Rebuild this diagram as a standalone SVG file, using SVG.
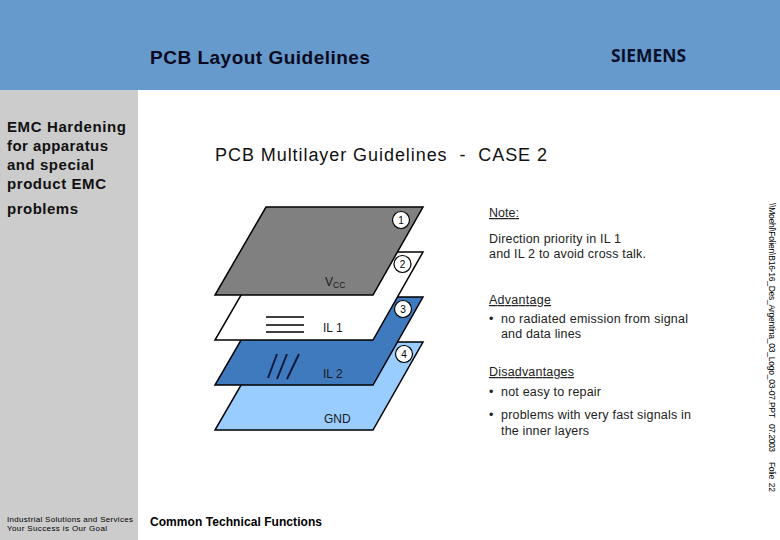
<svg xmlns="http://www.w3.org/2000/svg" width="780" height="540" viewBox="0 0 780 540">
<style>
text{font-family:"Liberation Sans",Arial,sans-serif;fill:#000}
.layer{stroke:#000;stroke-width:1.5;stroke-linejoin:miter}
.badge{fill:#fff;stroke:#000;stroke-width:1.2}
.num{font-size:10px;text-anchor:middle}
.lbl{font-size:12px;fill:#1a1a1a}
.body{font-size:12.500px;fill:#222}
.side{font-size:15px;font-weight:bold;fill:#111}
.edge{font-size:8.500px}
.trace{stroke:#000;stroke-width:1.3;fill:none}
.trace2{stroke:#0a1a40;stroke-width:2;fill:none}
</style>
<rect id="header-band" x="0" y="0" width="780" height="90" fill="#6699cc"/>
<rect id="sidebar" x="0" y="90" width="138" height="450" fill="#cccccc"/>
<text x="150" y="64" font-size="19" font-weight="bold" style="fill:#0a0a20" textLength="220">PCB Layout Guidelines</text>
<text x="611" y="62" font-size="17" font-weight="bold" style="font-family:'Open Sans','DejaVu Sans',sans-serif;fill:#0a1028" textLength="75" lengthAdjust="spacingAndGlyphs">SIEMENS</text>
<g id="sidebar-text">
<text class="side" x="7" y="132" textLength="119">EMC Hardening</text>
<text class="side" x="7" y="151" textLength="101">for apparatus</text>
<text class="side" x="7" y="170" textLength="87">and special</text>
<text class="side" x="7" y="189" textLength="99">product EMC</text>
<text class="side" x="7" y="214" textLength="71">problems</text>
</g>
<text x="215" y="161" font-size="18" style="fill:#111" xml:space="preserve" textLength="332">PCB Multilayer Guidelines  -  CASE 2</text>
<g id="layer-gnd">
<polygon class="layer" points="266,342 423,342 373,430 215,430" fill="#99ccff"/>
<text class="lbl" x="324" y="423">GND</text>
</g>
<g id="layer-il2">
<polygon class="layer" points="266,297 423,297 373,385 215,385" fill="#3f7abf"/>
<path class="trace2" d="M277 354L268 378M287 354L277 379M299 354L287 379"/>
<text class="lbl" x="323" y="378">IL 2</text>
</g>
<g id="layer-il1">
<polygon class="layer" points="266,252 423,252 373,340 215,340" fill="#fff"/>
<path class="trace" d="M266 317H304M266 325H304M266 332H304"/>
<text class="lbl" x="323" y="332">IL 1</text>
</g>
<g id="layer-vcc">
<polygon class="layer" points="266,207 423,207 373,295 215,295" fill="#808080"/>
<text class="lbl" x="325" y="286" font-size="12">V<tspan font-size="8.500" dy="2">CC</tspan></text>
</g>
<g id="badge-1"><circle class="badge" cx="401" cy="220" r="8.5"/><text class="num" x="401" y="224">1</text></g>
<g id="badge-2"><circle class="badge" cx="402.500" cy="264" r="8.5"/><text class="num" x="402.500" y="268">2</text></g>
<g id="badge-3"><circle class="badge" cx="403" cy="309" r="8.5"/><text class="num" x="403" y="313">3</text></g>
<g id="badge-4"><circle class="badge" cx="404" cy="354" r="8.5"/><text class="num" x="404" y="358">4</text></g>
<g id="notes">
<text class="body" x="489" y="217" textLength="30" text-decoration="underline">Note:</text>
<text class="body" x="489" y="243" textLength="132">Direction priority in IL 1</text>
<text class="body" x="489" y="258" textLength="157">and IL 2 to avoid cross talk.</text>
<text class="body" x="489" y="304" textLength="62" text-decoration="underline">Advantage</text>
<text class="body" x="489" y="323">•</text>
<text class="body" x="501" y="323" textLength="187">no radiated emission from signal</text>
<text class="body" x="501" y="337.500" textLength="80">and data lines</text>
<text class="body" x="489" y="376" textLength="85" text-decoration="underline">Disadvantages</text>
<text class="body" x="489" y="396">•</text>
<text class="body" x="501" y="396" textLength="100">not easy to repair</text>
<text class="body" x="489" y="419">•</text>
<text class="body" x="501" y="419" textLength="190">problems with very fast signals in</text>
<text class="body" x="501" y="435" textLength="88">the inner layers</text>
</g>
<text class="edge" transform="translate(769,203) rotate(90)" textLength="215">\\Moehl\Folien\B16-16_Des_Argentina_03_Logo_03-07.PPT</text>
<text class="edge" transform="translate(769,424) rotate(90)" textLength="28">07.2003</text>
<text class="edge" transform="translate(769,462) rotate(90)" xml:space="preserve" textLength="30">Folie  22</text>
<text x="7" y="522" font-size="8" textLength="126">Industrial Solutions and Services</text>
<text x="7" y="531" font-size="8" textLength="100">Your Success is Our Goal</text>
<text x="150" y="526" font-size="12" font-weight="bold" textLength="172">Common Technical Functions</text>
</svg>
